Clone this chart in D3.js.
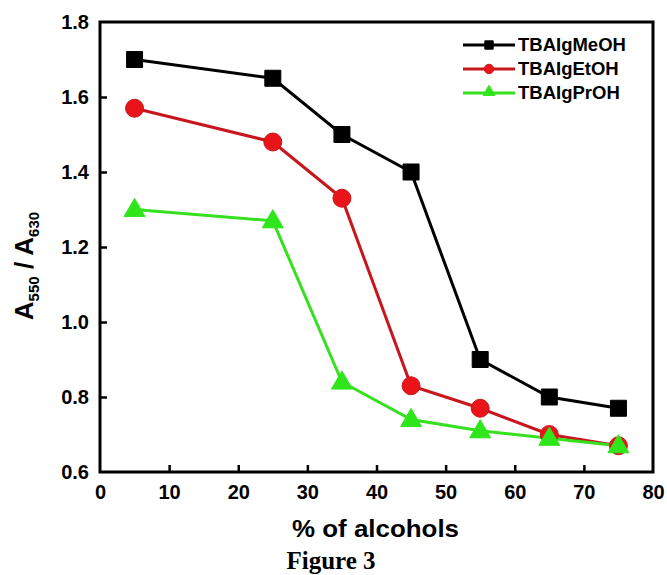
<!DOCTYPE html>
<html>
<head>
<meta charset="utf-8">
<script src="https://cdn.jsdelivr.net/npm/d3@7"></script>
<style>
  html, body { margin: 0; padding: 0; background: #fff; }
  svg { display: block; font-family: "Liberation Sans", Arial, sans-serif; }
</style>
</head>
<body>
<svg id="chart" width="667" height="575"></svg>
<script>
// Alcohol content (%) for each measurement
const alcohol = [5, 25, 35, 45, 55, 65, 75];

// A550 / A630 absorbance ratios per solvent series
const meoh = [1.70, 1.65, 1.50, 1.40, 0.90, 0.80, 0.77];
const etoh = [1.57, 1.48, 1.33, 0.83, 0.77, 0.70, 0.67];
const proh = [1.30, 1.27, 0.84, 0.74, 0.71, 0.69, 0.67];

const seriesNames = ["TBAIgMeOH", "TBAIgEtOH", "TBAIgPrOH"];
const xTicks = [0, 10, 20, 30, 40, 50, 60, 70, 80];
const yTicks = [0.6, 0.8, 1.0, 1.2, 1.4, 1.6, 1.8];

const series = [
  { name: seriesNames[0], values: meoh, line: "#000000", fill: "#000000", stroke: "#000000", shape: "square" },
  { name: seriesNames[1], values: etoh, line: "#c8161d", fill: "#e8141a", stroke: "#c8161d", shape: "circle" },
  { name: seriesNames[2], values: proh, line: "#35e01f", fill: "#2ee61a", stroke: "#2ee61a", shape: "triangle" }
];

const svg = d3.select("#chart");
const m = { left: 100, right: 653, top: 22, bottom: 472 };

const x = d3.scaleLinear().domain([0, 80]).range([m.left, m.right]);
const y = d3.scaleLinear().domain([0.6, 1.8]).range([m.bottom, m.top]);

// Inward ticks on the left and bottom axes
const xAxis = d3.axisBottom(x).tickValues(xTicks).tickSize(-7).tickPadding(13).tickFormat(d3.format("d"));
const yAxis = d3.axisLeft(y).tickValues(yTicks).tickSize(-7).tickPadding(11).tickFormat(d3.format(".1f"));

const gx = svg.append("g").attr("transform", `translate(0,${m.bottom})`).call(xAxis);
const gy = svg.append("g").attr("transform", `translate(${m.left},0)`).call(yAxis);
[gx, gy].forEach(g => {
  g.select(".domain").remove();
  g.selectAll(".tick line").attr("stroke", "#000").attr("stroke-width", 2.5);
  g.selectAll(".tick text").attr("fill", "#000").attr("font-size", 20).attr("font-weight", "bold");
});
gx.selectAll(".tick text").attr("dy", "0.71em");
// Edge tick marks coincide with the frame
gx.selectAll(".tick").filter(d => d === 0 || d === 80).select("line").remove();
gy.selectAll(".tick").filter(d => d === 0.6 || d === 1.8).select("line").remove();

// Plot frame
svg.append("rect")
  .attr("x", m.left).attr("y", m.top)
  .attr("width", m.right - m.left).attr("height", m.bottom - m.top)
  .attr("fill", "none").attr("stroke", "#000").attr("stroke-width", 3);

const line = d3.line().x((d, i) => x(alcohol[i])).y(d => y(d));

const symbolFor = (shape, size) => {
  const type = shape === "square" ? d3.symbolSquare : shape === "circle" ? d3.symbolCircle : d3.symbolTriangle;
  return d3.symbol().type(type).size(size)();
};
const sizeFor = { square: 256, circle: 254, triangle: 190 };

series.forEach(s => {
  svg.append("path")
    .datum(s.values)
    .attr("d", line)
    .attr("fill", "none")
    .attr("stroke", s.line)
    .attr("stroke-width", 3);
});

series.forEach(s => {
  svg.append("g").selectAll("path")
    .data(s.values)
    .join("path")
    .attr("transform", (d, i) => `translate(${x(alcohol[i])},${y(d) + (s.shape === "triangle" ? 1 : 0)})`)
    .attr("d", symbolFor(s.shape, sizeFor[s.shape]))
    .attr("fill", s.fill)
    .attr("stroke", s.stroke)
    .attr("stroke-width", 1);
});

// Legend
const legend = svg.append("g").attr("transform", "translate(463,45)");
series.forEach((s, i) => {
  const row = legend.append("g").attr("transform", `translate(0,${i * 24})`);
  row.append("line").attr("x1", 0).attr("x2", 52).attr("y1", 0).attr("y2", 0)
    .attr("stroke", s.line).attr("stroke-width", 3);
  row.append("path")
    .attr("transform", `translate(26,${s.shape === "triangle" ? -1 : 0})`)
    .attr("d", symbolFor(s.shape, s.shape === "triangle" ? 60 : 70))
    .attr("fill", s.fill).attr("stroke", s.stroke).attr("stroke-width", 1);
  row.append("text")
    .attr("x", 55).attr("y", 0).attr("dy", "0.35em")
    .attr("font-size", 18.5).attr("font-weight", "bold").attr("fill", "#000")
    .text(s.name);
});

// Axis titles
svg.append("text")
  .attr("x", (m.left + m.right) / 2 - 1).attr("y", 537)
  .attr("text-anchor", "middle")
  .attr("font-size", 24).attr("font-weight", "bold")
  .attr("textLength", 167).attr("lengthAdjust", "spacingAndGlyphs")
  .text("% of alcohols");

const yTitle = svg.append("text")
  .attr("transform", "translate(33,266) rotate(-90)")
  .attr("text-anchor", "middle")
  .attr("font-size", 26).attr("font-weight", "bold");
yTitle.append("tspan").text("A");
yTitle.append("tspan").attr("font-size", 15).attr("dy", 6).text("550");
yTitle.append("tspan").attr("dy", -6).text(" / A");
yTitle.append("tspan").attr("font-size", 15).attr("dy", 6).text("630");

// Figure caption
svg.append("text")
  .attr("x", 331).attr("y", 569)
  .attr("text-anchor", "middle")
  .attr("font-family", "'Liberation Serif', 'Times New Roman', serif")
  .attr("font-size", 25).attr("font-weight", "bold")
  .text("Figure 3");
</script>
</body>
</html>
